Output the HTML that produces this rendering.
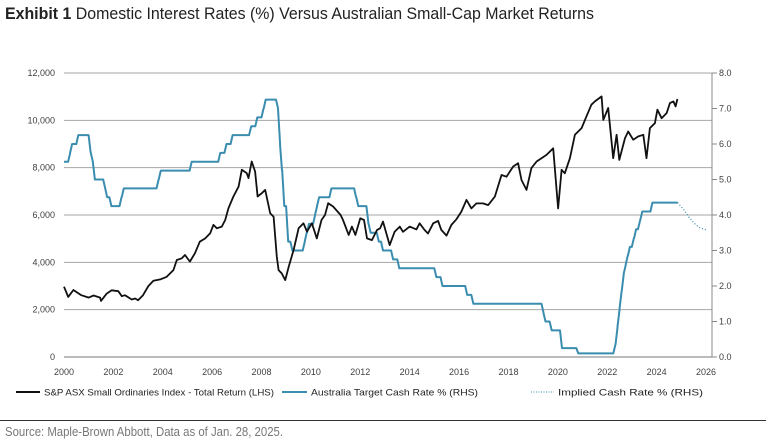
<!DOCTYPE html>
<html><head><meta charset="utf-8"><style>
html,body{margin:0;padding:0;background:#fff;}
svg{display:block;}
text{font-family:"Liberation Sans",sans-serif;}
.n{font-family:"Liberation Sans Narrow","Liberation Sans",sans-serif;}
</style></head><body>
<svg id="chart" width="766" height="447" xmlns="http://www.w3.org/2000/svg">
<text x="5" y="19" font-size="17" class="n" textLength="589" lengthAdjust="spacingAndGlyphs" fill="#222"><tspan font-weight="bold">Exhibit 1</tspan> Domestic Interest Rates (%) Versus Australian Small-Cap Market Returns</text>
<g id="grid"></g>
<g id="axes"></g>
<g id="series"></g>
<g>
<line x1="16" y1="392" x2="40" y2="392" stroke="#111" stroke-width="2"/>
<text x="44" y="395.5" font-size="9.5" class="n" textLength="230" lengthAdjust="spacingAndGlyphs" fill="#222">S&amp;P ASX Small Ordinaries Index - Total Return (LHS)</text>
<line x1="282" y1="392" x2="307" y2="392" stroke="#3b8db0" stroke-width="2"/>
<text x="311" y="395.5" font-size="9.5" class="n" textLength="167" lengthAdjust="spacingAndGlyphs" fill="#222">Australia Target Cash Rate % (RHS)</text>
<line x1="531" y1="392" x2="554" y2="392" stroke="#3b8db0" stroke-width="1" stroke-dasharray="1,1.5"/>
<text x="558" y="395.5" font-size="9.5" class="n" textLength="145" lengthAdjust="spacingAndGlyphs" fill="#222">Implied Cash Rate % (RHS)</text>
</g>
<line x1="0" y1="420.5" x2="766" y2="420.5" stroke="#333" stroke-width="1"/>
<text x="5" y="436" font-size="12.5" class="n" textLength="278" lengthAdjust="spacingAndGlyphs" fill="#777">Source: Maple-Brown Abbott, Data as of Jan. 28, 2025.</text>
</svg>
<script>
const indexDates=[2000.0,2000.17,2000.38,2000.7,2001.0,2001.2,2001.46,2001.5,2001.73,2001.93,2002.2,2002.34,2002.47,2002.74,2002.88,2003.0,2003.2,2003.42,2003.62,2003.9,2004.16,2004.43,2004.57,2004.77,2004.9,2005.1,2005.3,2005.5,2005.72,2005.92,2006.05,2006.19,2006.39,2006.53,2006.66,2006.86,2007.07,2007.2,2007.4,2007.47,2007.6,2007.74,2007.84,2008.01,2008.15,2008.35,2008.49,2008.62,2008.69,2008.82,2008.96,2009.1,2009.3,2009.5,2009.7,2009.84,2010.04,2010.24,2010.43,2010.57,2010.7,2010.9,2011.2,2011.3,2011.53,2011.66,2011.8,2012.0,2012.15,2012.27,2012.47,2012.68,2012.8,2012.92,2013.19,2013.39,2013.6,2013.73,2014.0,2014.27,2014.4,2014.6,2014.74,2014.95,2015.15,2015.28,2015.49,2015.69,2015.89,2016.09,2016.3,2016.5,2016.7,2016.97,2017.18,2017.45,2017.72,2017.92,2018.19,2018.39,2018.53,2018.73,2018.93,2019.14,2019.34,2019.54,2019.81,2020.01,2020.15,2020.28,2020.49,2020.69,2020.96,2021.16,2021.36,2021.5,2021.77,2021.84,2022.04,2022.24,2022.38,2022.49,2022.72,2022.85,2023.05,2023.26,2023.46,2023.59,2023.73,2023.93,2024.03,2024.2,2024.41,2024.54,2024.68,2024.77,2024.84];
const indexValues=[2970,2540,2830,2610,2510,2600,2510,2370,2680,2820,2780,2570,2610,2430,2470,2400,2610,3000,3220,3280,3390,3670,4100,4170,4310,4030,4380,4870,5010,5230,5580,5440,5510,5790,6290,6780,7200,7910,7770,7560,8260,7840,6780,6920,7060,6070,5930,4240,3670,3530,3250,3810,4520,5440,5650,5300,5650,5010,5790,6000,6500,6360,6000,5790,5160,5510,5160,5860,5790,5010,4940,5370,5440,5720,4730,5290,5510,5290,5510,5390,5650,5370,5220,5650,5750,5370,5130,5580,5820,6140,6640,6280,6490,6490,6420,6780,7690,7620,8050,8190,7480,7060,7980,8260,8400,8540,8820,6280,7910,7760,8400,9390,9670,10170,10660,10800,11010,10020,10520,8400,9390,8330,9250,9530,9180,9320,9390,8400,9670,9880,10450,10090,10310,10730,10800,10590,10900];
const cashDates=[2000.0,2000.25,2000.33,2000.58,2001.08,2001.17,2001.25,2001.67,2001.75,2001.92,2002.33,2002.42,2003.83,2003.92,2005.17,2006.33,2006.58,2006.83,2007.58,2007.83,2008.08,2008.17,2008.67,2008.75,2008.83,2008.92,2009.08,2009.25,2009.75,2009.83,2009.92,2010.17,2010.25,2010.33,2010.83,2011.83,2011.92,2012.33,2012.42,2012.75,2012.92,2013.33,2013.58,2015.08,2015.33,2016.33,2016.58,2019.42,2019.5,2019.75,2020.17,2020.83,2022.33,2022.42,2022.5,2022.58,2022.67,2022.75,2022.83,2022.92,2023.08,2023.17,2023.33,2023.42,2023.83,2024.85];
const cashValues=[5.5,5.75,6.0,6.25,5.75,5.5,5.0,4.75,4.5,4.25,4.5,4.75,5.0,5.25,5.5,5.75,6.0,6.25,6.5,6.75,7.0,7.25,7.0,6.0,5.25,4.25,3.25,3.0,3.25,3.5,3.75,4.0,4.25,4.5,4.75,4.5,4.25,3.75,3.5,3.25,3.0,2.75,2.5,2.25,2.0,1.75,1.5,1.25,1.0,0.75,0.25,0.1,0.35,0.85,1.35,1.85,2.35,2.6,2.85,3.1,3.35,3.6,3.85,4.1,4.35,4.35];
const impliedDates=[2024.85,2025.1,2025.3,2025.5,2025.7,2025.9,2026.05];
const impliedValues=[4.35,4.15,3.95,3.78,3.66,3.6,3.58];
const leftTicks=[0,2000,4000,6000,8000,10000,12000];
const rightTicks=[0,1,2,3,4,5,6,7,8];
const yearTicks=[2000,2002,2004,2006,2008,2010,2012,2014,2016,2018,2020,2022,2024,2026];

const NS="http://www.w3.org/2000/svg";
const X0=64,X1=706,PR=712,YT=73,YB=357;
const xs=y=>X0+(y-2000)/26*(X1-X0);
const yl=v=>YB-v/12000*(YB-YT);
const yr=v=>YB-v/8*(YB-YT);
function mk(tag,attrs,parent){const e=document.createElementNS(NS,tag);for(const k in attrs)e.setAttribute(k,attrs[k]);parent.appendChild(e);return e;}
const grid=document.getElementById('grid'),axes=document.getElementById('axes'),ser=document.getElementById('series');
leftTicks.forEach(v=>{
  if(v>0){const g=mk('line',{x1:X0,x2:PR,y1:yl(v),y2:yl(v),stroke:'#a6a6a6','stroke-width':1},grid);
  
  }
  const t=mk('text',{x:55,y:yl(v)+3,'font-size':9,'text-anchor':'end',fill:'#404040'},axes);
  t.textContent=v.toLocaleString('en-US');
  
  
});
rightTicks.forEach(v=>{
  const tk=mk('line',{x1:PR,x2:PR+5,y1:yr(v),y2:yr(v),stroke:'#888','stroke-width':1},axes);
  
  
  const t=mk('text',{x:719,y:yr(v)+3,'font-size':9,fill:'#404040'},axes);
  t.textContent=v.toFixed(1);
  
  
});
yearTicks.forEach(y=>{
  const t=mk('text',{x:xs(y),y:375,'font-size':9,'text-anchor':'middle',fill:'#404040'},axes);
  t.textContent=y;
  
  
});
const xa=mk('line',{x1:X0,x2:PR,y1:YB,y2:YB,stroke:'#777','stroke-width':1},axes);


const ra=mk('line',{x1:PR,x2:PR,y1:YT,y2:YB,stroke:'#888','stroke-width':1},axes);



// cash rate as monthly steps
let cp=[];
cashDates.forEach((d,i)=>{ if(i>0) cp.push([d-1/12,cashValues[i-1]]); cp.push([d,cashValues[i]]); });
const cashPath=mk('polyline',{points:cp.map(p=>xs(p[0]).toFixed(1)+','+yr(p[1]).toFixed(1)).join(' '),fill:'none',stroke:'#3b8db0','stroke-width':2,'stroke-linejoin':'round'},ser);


const imp=mk('polyline',{points:impliedDates.map((d,i)=>xs(d).toFixed(1)+','+yr(impliedValues[i]).toFixed(1)).join(' '),fill:'none',stroke:'#3b8db0','stroke-width':1.3,'stroke-dasharray':'1,2'},ser);


const idx=mk('polyline',{points:indexDates.map((d,i)=>xs(d).toFixed(1)+','+yl(indexValues[i]).toFixed(1)).join(' '),fill:'none',stroke:'#111','stroke-width':1.8,'stroke-linejoin':'round'},ser);


</script>
</body></html>
